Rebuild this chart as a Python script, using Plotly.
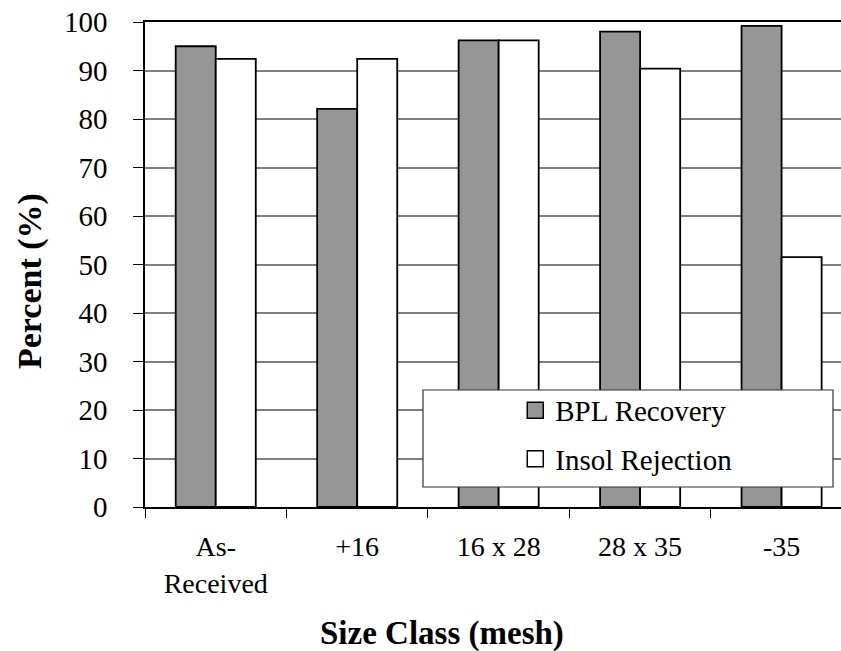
import plotly.graph_objects as go

categories = ["As-<br>Received", "+16", "16 x 28", "28 x 35", "-35"]
bpl_recovery = [95.0, 82.1, 96.2, 98.0, 99.2]
insol_rejection = [92.4, 92.4, 96.2, 90.4, 51.5]
series_names = ["BPL Recovery", "Insol Rejection"]
y_ticks = list(range(0, 101, 10))

FONT = "Liberation Serif"
GRAY = "#969696"

fig = go.Figure()
fig.add_trace(go.Bar(x=categories, y=bpl_recovery, name=series_names[0],
                     marker=dict(color=GRAY, line=dict(color="black", width=1.8)),
                     showlegend=False))
fig.add_trace(go.Bar(x=categories, y=insol_rejection, name=series_names[1],
                     marker=dict(color="white", line=dict(color="black", width=1.8)),
                     showlegend=False))
# legend entries with larger square swatches
fig.add_trace(go.Scatter(x=[None], y=[None], mode="markers", name=series_names[0],
                         legendgroup="a",
                         marker=dict(symbol="square", size=20, color=GRAY,
                                     line=dict(color="black", width=1.5))))
fig.add_trace(go.Scatter(x=[None], y=[None], mode="markers", name=series_names[1],
                         legendgroup="b",
                         marker=dict(symbol="square", size=20, color="white",
                                     line=dict(color="black", width=1.5))))

fig.update_layout(
    width=841, height=651,
    margin=dict(l=145, r=0, t=22, b=144),
    paper_bgcolor="white", plot_bgcolor="white",
    font=dict(family=FONT, color="black", size=27),
    barmode="group", bargap=0.434, bargroupgap=0,
    legend=dict(x=0.532, y=0.252, xanchor="left", yanchor="top",
                bgcolor="rgba(0,0,0,0)", borderwidth=0,
                font=dict(family=FONT, size=29, color="black"),
                tracegroupgap=8, traceorder="grouped", itemsizing="trace"),
    shapes=[dict(type="rect", xref="paper", yref="paper",
                 x0=0.3994, x1=0.9885, y0=0.0412, y1=0.2412,
                 fillcolor="white", line=dict(color="#333333", width=1.2),
                 layer="above")],
    annotations=[
        dict(text="<b>Size Class (mesh)</b>", xref="paper", yref="paper",
             x=(442 - 145) / 696, y=-(633 - 507) / 485, xanchor="center", yanchor="middle",
             showarrow=False, font=dict(family=FONT, size=33, color="black")),
        dict(text="<b>Percent (%)</b>", xref="paper", yref="paper",
             x=-(145 - 30) / 696, y=(507 - 281) / 485, xanchor="center", yanchor="middle",
             textangle=-90, showarrow=False, font=dict(family=FONT, size=34, color="black")),
    ],
)

fig.update_xaxes(
    type="category", range=[-0.5, 4.42],
    showline=True, linecolor="black", linewidth=1.5, mirror=True,
    ticks="outside", ticklen=9, tickwidth=1, tickcolor="black",
    tickson="boundaries", ticklabelstandoff=14,
    tickfont=dict(family=FONT, size=28, color="black"),
    showgrid=False, zeroline=False,
)
fig.update_yaxes(
    range=[0, 100], tickvals=y_ticks,
    showline=True, linecolor="black", linewidth=1.5,
    ticks="outside", ticklen=10, tickwidth=1, tickcolor="black",
    ticklabelstandoff=20,
    tickfont=dict(family=FONT, size=29, color="black"),
    showgrid=True, gridcolor="#7f7f7f", gridwidth=1.5, zeroline=False,
)

fig.write_html("out.html")
